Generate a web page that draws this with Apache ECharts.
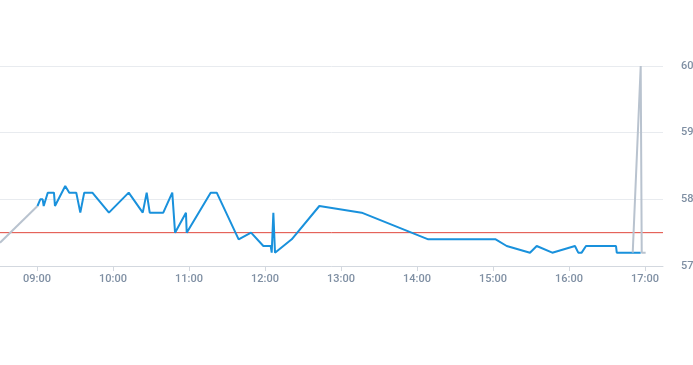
<!DOCTYPE html>
<html>
<head>
<meta charset="utf-8">
<script src="https://cdn.jsdelivr.net/npm/echarts@6/dist/echarts.min.js"></script>
<style>
html,body{margin:0;padding:0;background:#fff;}
#c{width:693px;height:365px;}
</style>
</head>
<body>
<div id="c"></div>
<script>
// time in minutes since 00:00
const hourTicks = [540, 600, 660, 720, 780, 840, 900, 960, 1020];
const yTicks = [57, 58, 59, 60];
const prevClose = 57.5;

const preTimes = [510.8, 540.4];
const preValues = [57.35, 57.9];

const mainTimes = [540.4, 541.8, 542.6, 544.5, 545.3, 548.5, 553.4, 554.2, 562.3, 565.5,
  571.0, 574.2, 577.3, 583.7, 596.8, 612.4, 623.5, 626.6, 629.0, 639.7,
  646.8, 649.0, 657.6, 658.2, 677.1, 681.9, 699.2, 709.0, 718.7, 724.5,
  725.3, 726.6, 727.9, 741.1, 762.9, 796.3, 848.9, 902.1, 910.8, 929.2,
  934.5, 946.8, 964.7, 967.3, 970.0, 973.4, 997.1, 997.7, 1016.6];
const mainValues = [57.9, 57.9, 58.0, 58.0, 57.9, 58.1, 58.1, 57.9, 58.2, 58.1,
  58.1, 57.8, 58.1, 58.1, 57.8, 58.1, 57.8, 58.1, 57.8, 57.8,
  58.1, 57.5, 57.8, 57.5, 58.1, 58.1, 57.4, 57.5, 57.3, 57.3,
  57.2, 57.8, 57.2, 57.4, 57.9, 57.8, 57.4, 57.4, 57.3, 57.2,
  57.3, 57.2, 57.3, 57.2, 57.2, 57.3, 57.3, 57.2, 57.2];

const postTimes = [1010.3, 1016.6, 1017.4, 1020.5];
const postValues = [57.2, 60.0, 57.2, 57.2];

function pairs(t, v) { return t.map((x, i) => [x, v[i]]); }
function hhmm(m) {
  const h = Math.floor(m / 60), mm = Math.round(m % 60);
  return String(h).padStart(2, '0') + ':' + String(mm).padStart(2, '0');
}

const chart = echarts.init(document.getElementById('c'), null, {renderer: 'canvas'});
chart.setOption({
  animation: false,
  backgroundColor: '#ffffff',
  grid: {left: 0, right: 30, top: 66, bottom: 99, containLabel: false, outerBoundsMode: 'none'},
  xAxis: {
    type: 'value',
    min: 510.8,
    max: 1034.2,
    splitLine: {show: false},
    axisLine: {lineStyle: {color: '#d3d8df', width: 1}},
    axisTick: {customValues: hourTicks, length: 5, lineStyle: {color: '#d3d8df'}},
    axisLabel: {
      customValues: hourTicks,
      formatter: v => hhmm(v),
      color: '#7f8fa3', fontSize: 11, margin: 8, fontWeight: 500,
      fontFamily: 'Roboto, "Noto Sans", sans-serif'
    }
  },
  yAxis: {
    type: 'value',
    position: 'right',
    min: 57, max: 60, interval: 1,
    axisLine: {show: false},
    axisTick: {show: false},
    splitLine: {lineStyle: {color: '#e8ebef', width: 1}},
    axisLabel: {
      customValues: yTicks,
      color: '#7f8fa3', fontSize: 11, margin: 18, fontWeight: 500,
      fontFamily: 'Roboto, "Noto Sans", sans-serif',
      formatter: v => String(v)
    }
  },
  series: [
    {
      type: 'line',
      data: [[510.8, prevClose], [1034.2, prevClose]],
      symbol: 'none',
      lineStyle: {color: '#e0473c', width: 1},
      z: 1,
      silent: true
    },
    {
      type: 'line',
      data: pairs(preTimes, preValues),
      symbol: 'none',
      lineStyle: {color: '#b9c3cf', width: 2},
      z: 2
    },
    {
      type: 'line',
      data: pairs(mainTimes, mainValues),
      symbol: 'none',
      lineStyle: {color: '#1991dc', width: 2},
      z: 3
    },
    {
      type: 'line',
      data: pairs(postTimes, postValues),
      symbol: 'none',
      lineStyle: {color: '#b9c3cf', width: 2},
      z: 4
    }
  ]
});
</script>
</body>
</html>
